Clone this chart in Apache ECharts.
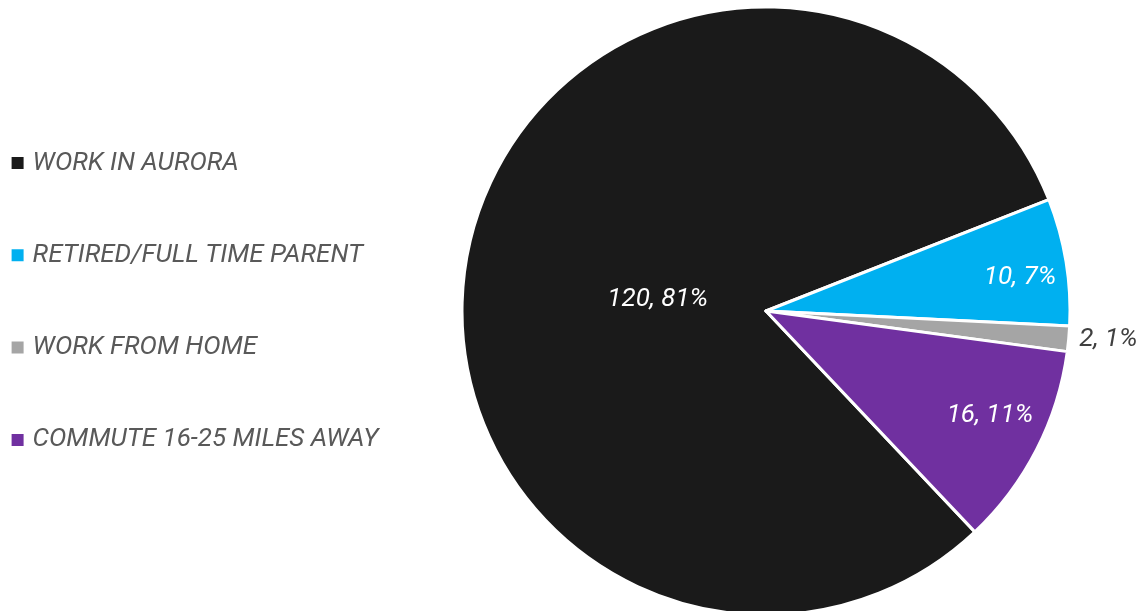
<!DOCTYPE html>
<html>
<head>
<meta charset="utf-8">
<script src="https://cdn.jsdelivr.net/npm/echarts@6/dist/echarts.min.js"></script>
<style>
  html, body { margin: 0; padding: 0; background: #ffffff; }
  #chart { width: 1147px; height: 611px; }
</style>
</head>
<body>
<div id="chart"></div>
<script>
// Where respondents work
const categories = ['WORK IN AURORA', 'RETIRED/FULL TIME PARENT', 'WORK FROM HOME', 'COMMUTE 16-25 MILES AWAY'];
const counts = [120, 10, 2, 16];
const colors = ['#1a1a1a', '#00b0f0', '#a5a5a5', '#7030a0'];
// label nudges from the default inner anchor, per slice
const labelOffsets = [[43, 22], [101, -8], [188, 14], [86, 34]];
const labelColors = ['#ffffff', '#ffffff', '#404040', '#ffffff'];

const total = counts.reduce((a, b) => a + b, 0);

const chart = echarts.init(document.getElementById('chart'), null, { renderer: 'canvas' });

chart.setOption({
  animation: false,
  color: colors,
  legend: {
    orient: 'vertical',
    left: 4.6,
    top: 143,
    itemWidth: 14,
    itemHeight: 14,
    itemGap: 62.3,
    icon: 'rect',
    data: categories,
    textStyle: {
      fontFamily: 'Roboto',
      fontStyle: 'italic',
      fontSize: 26,
      lineHeight: 30,
      color: '#595959',
      padding: [0, 0, 0, 3]
    }
  },
  series: [{
    type: 'pie',
    center: [766, 311],
    radius: 304,
    startAngle: 313.4,
    clockwise: true,
    avoidLabelOverlap: false,
    itemStyle: { borderColor: '#ffffff', borderWidth: 3 },
    labelLine: { show: false },
    label: {
      show: true,
      position: 'inside',
      fontFamily: 'Roboto',
      fontStyle: 'italic',
      fontSize: 26,
      formatter: p => p.value + ', ' + Math.round(p.value / total * 100) + '%'
    },
    data: categories.map((name, i) => ({
      name,
      value: counts[i],
      label: { offset: labelOffsets[i], color: labelColors[i] }
    }))
  }]
});
</script>
</body>
</html>
